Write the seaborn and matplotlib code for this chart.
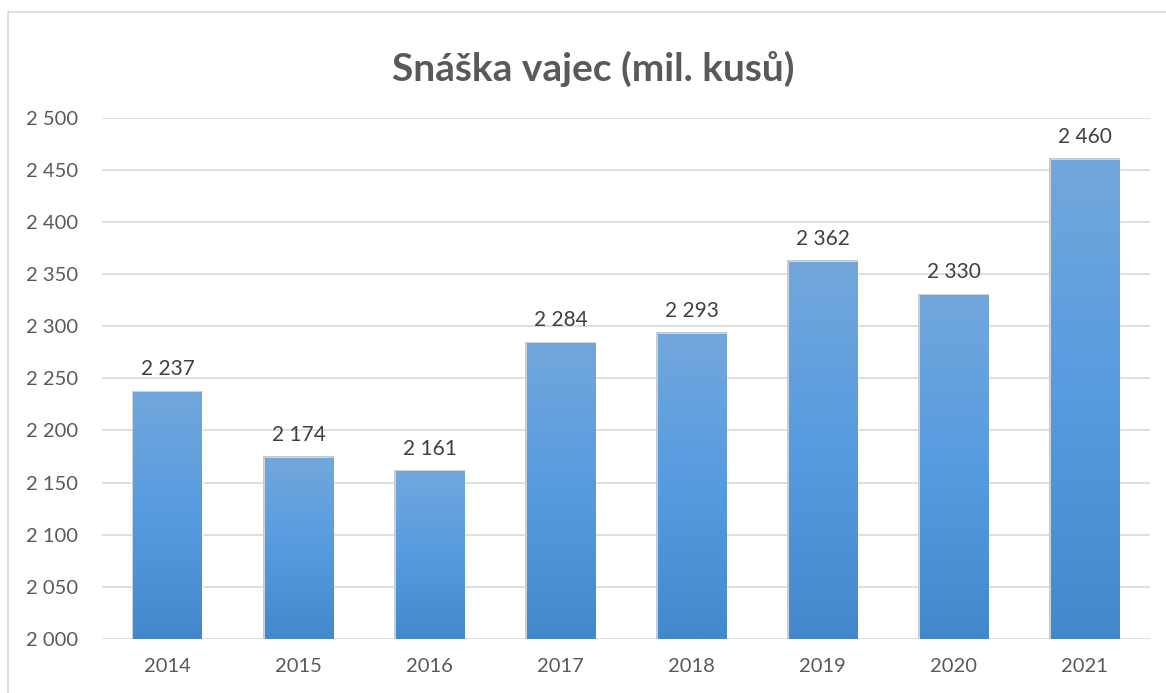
import numpy as np
import pandas as pd
import matplotlib.pyplot as plt
import seaborn as sns
from matplotlib.colors import LinearSegmentedColormap
from matplotlib.lines import Line2D

years = ["2014", "2015", "2016", "2017", "2018", "2019", "2020", "2021"]
eggs = [2237, 2174, 2161, 2284, 2293, 2362, 2330, 2460]
y_ticks = [2000, 2050, 2100, 2150, 2200, 2250, 2300, 2350, 2400, 2450, 2500]


def fmt(v):
    return f"{v:,}".replace(",", " ")


def main():
    sns.set_style("white")
    plt.rcParams["font.family"] = ["Lato", "DejaVu Sans"]

    df = pd.DataFrame({"year": years, "eggs": eggs})

    fig = plt.figure(figsize=(11.66, 6.93), dpi=100)
    ax = fig.add_axes([0.0875, 0.078, 0.899, 0.752])

    sns.barplot(data=df, x="year", y="eggs", color="#5b9bd5", width=0.52,
                ax=ax, zorder=3)

    # gradient fill, lighter at the top, darker at the bottom
    cmap = LinearSegmentedColormap.from_list("bar", ["#4189cc", "#569be0", "#72a7dc"])
    grad = np.linspace(0, 1, 256).reshape(-1, 1)
    for p in ax.patches:
        x0, w = p.get_x(), p.get_width()
        top = p.get_y() + p.get_height()
        shadow = plt.Rectangle((x0 - 0.012, 1990), w + 0.024, top - 1990 + 1.2,
                               facecolor="#c8c8c8", edgecolor="none", zorder=2)
        ax.add_patch(shadow)
        im = ax.imshow(grad, extent=[x0, x0 + w, 2000, top], origin="lower",
                       cmap=cmap, aspect="auto", zorder=4)
        im.set_clip_path(p)
        ax.text(x0 + w / 2, top + 12, fmt(int(round(top))), ha="center",
                va="bottom", fontsize=15, color="#404040")

    ax.set_ylim(2000, 2500)
    ax.set_xlim(-0.5, len(years) - 0.5)
    ax.set_yticks(y_ticks)
    ax.set_yticklabels([fmt(t) for t in y_ticks])
    ax.yaxis.grid(True, color="#d9d9d9", linewidth=1.2, zorder=0)
    ax.set_axisbelow(True)
    for s in ax.spines.values():
        s.set_visible(False)
    ax.tick_params(axis="both", length=0, labelsize=14.5, labelcolor="#595959")
    ax.tick_params(axis="y", pad=17)
    ax.tick_params(axis="x", pad=14)
    ax.set_xlabel("")
    ax.set_ylabel("")

    fig.text(0.509, 0.9, "Snáška vajec (mil. kusů)", ha="center", va="center",
             fontsize=28, fontweight="bold", color="#595959")

    # chart frame
    fig.add_artist(Line2D([8 / 1166, 8 / 1166], [0, 1 - 12 / 693],
                          color="#d9d9d9", linewidth=1.2))
    fig.add_artist(Line2D([8 / 1166, 1], [1 - 12 / 693, 1 - 12 / 693],
                          color="#d9d9d9", linewidth=1.2))

    fig.savefig("out.png", dpi=100)


if __name__ == "__main__":
    main()
